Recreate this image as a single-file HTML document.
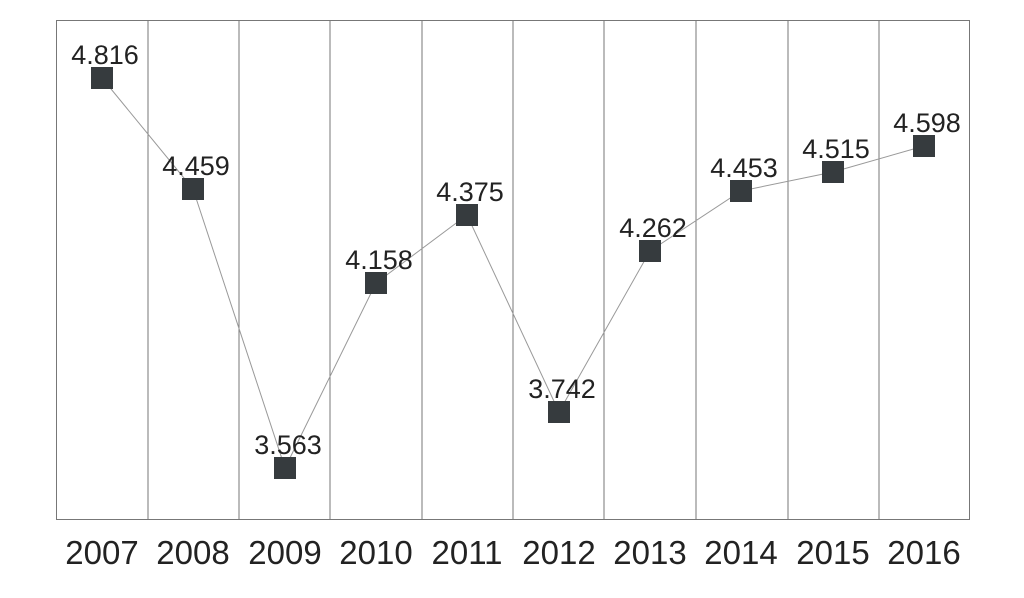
<!DOCTYPE html>
<html><head><style>body{margin:0;background:#fff}</style></head><body>
<svg width="1024" height="593" xmlns="http://www.w3.org/2000/svg" font-family="Liberation Sans, sans-serif">
<rect x="56.5" y="20.5" width="913" height="499" fill="none" stroke="#777" stroke-width="1"/>
<g stroke="#777" stroke-width="1">
<line x1="148" y1="20" x2="148" y2="519"/><line x1="239" y1="20" x2="239" y2="519"/>
<line x1="330" y1="20" x2="330" y2="519"/><line x1="422" y1="20" x2="422" y2="519"/>
<line x1="513" y1="20" x2="513" y2="519"/><line x1="604" y1="20" x2="604" y2="519"/>
<line x1="696" y1="20" x2="696" y2="519"/><line x1="788" y1="20" x2="788" y2="519"/>
<line x1="879" y1="20" x2="879" y2="519"/>
</g>
<polyline fill="none" stroke="#999" stroke-width="1" points="102,78 193,189 285,468 376,283 467,215 559,412 650,251 741,191 833,172 924,146"/>
<g fill="#363b3e">
<rect x="91" y="67" width="22" height="22"/><rect x="182" y="178" width="22" height="22"/>
<rect x="274" y="457" width="22" height="22"/><rect x="365" y="272" width="22" height="22"/>
<rect x="456" y="204" width="22" height="22"/><rect x="548" y="401" width="22" height="22"/>
<rect x="639" y="240" width="22" height="22"/><rect x="730" y="180" width="22" height="22"/>
<rect x="822" y="161" width="22" height="22"/><rect x="913" y="135" width="22" height="22"/>
</g>
<g font-size="27" fill="#222" text-anchor="middle">
<text x="105" y="64">4.816</text><text x="196" y="175">4.459</text>
<text x="288" y="454">3.563</text><text x="379" y="269">4.158</text>
<text x="470" y="201">4.375</text><text x="562" y="398">3.742</text>
<text x="653" y="237">4.262</text><text x="744" y="177">4.453</text>
<text x="836" y="158">4.515</text><text x="927" y="132">4.598</text>
</g>
<g font-size="33" fill="#222" text-anchor="middle">
<text x="102" y="564">2007</text><text x="193" y="564">2008</text><text x="285" y="564">2009</text>
<text x="376" y="564">2010</text><text x="467" y="564">2011</text><text x="559" y="564">2012</text>
<text x="650" y="564">2013</text><text x="741" y="564">2014</text><text x="833" y="564">2015</text>
<text x="924" y="564">2016</text>
</g>
</svg>
</body></html>
